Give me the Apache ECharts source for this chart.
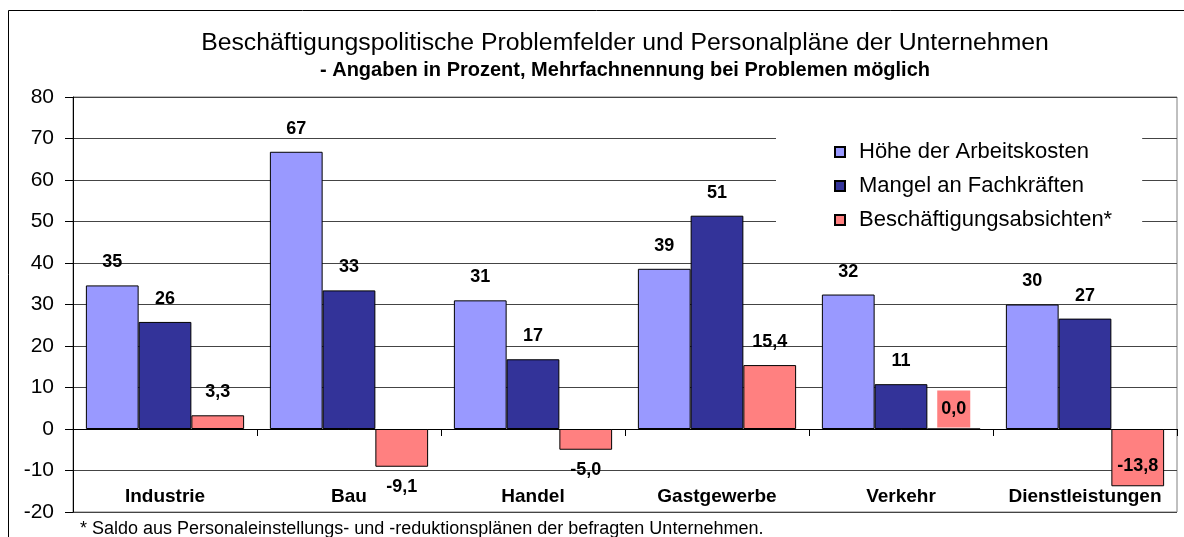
<!DOCTYPE html>
<html>
<head>
<meta charset="utf-8">
<script src="https://cdn.jsdelivr.net/npm/echarts@6/dist/echarts.min.js"></script>
<style>
  html, body { margin: 0; padding: 0; background: #fff; }
  #chart { width: 1184px; height: 537px; }
</style>
</head>
<body>
<div id="chart"></div>
<script>
// Daten
const categories = ['Industrie', 'Bau', 'Handel', 'Gastgewerbe', 'Verkehr', 'Dienstleistungen'];
const seriesNames = ['Höhe der Arbeitskosten', 'Mangel an Fachkräften', 'Beschäftigungsabsichten*'];
const arbeitskosten = [34.6, 66.8, 31.0, 38.6, 32.4, 30.0];
const fachkraefte = [25.8, 33.4, 16.8, 51.4, 10.8, 26.6];
const absichten = [3.3, -9.1, -5.0, 15.4, 0.0, -13.8];
const yTicks = { min: -20, max: 80, interval: 10 };

const FONT = "'Liberation Sans', Arial, sans-serif";
const colors = ['#9999FF', '#333399', '#FF8080'];

function fmtInt(p) { return Math.round(p.value); }
function fmtDec(p) { return p.value.toFixed(1).replace('.', ','); }

// Beschriftung der dritten Reihe je nach Wert
function absichtenData() {
    return absichten.map((v) => {
        if (v === 0) {
            return { value: v, label: { backgroundColor: '#FF8080', padding: [10, 4, 9, 4], distance: 1 } };
        }
        if (v < -12) {
            return { value: v, label: { position: 'insideBottom', distance: 11 } };
        }
        if (v < 0) {
            return { value: v, label: { position: 'bottom', distance: 11 } };
        }
        return v;
    });
}

let labelBase = {
    show: true,
    position: 'top',
    distance: 14,
    color: '#000',
    fontFamily: FONT,
    fontWeight: 'bold',
    fontSize: 18
};

let option = {
    animation: false,
    backgroundColor: '#fff',
    title: {
        text: 'Beschäftigungspolitische Problemfelder und Personalpläne der Unternehmen',
        subtext: '- Angaben in Prozent, Mehrfachnennung bei Problemen möglich',
        left: 625,
        top: 31,
        padding: 0,
        textAlign: 'center',
        itemGap: 4,
        textStyle: { fontFamily: FONT, fontWeight: 'normal', fontSize: 24.8, color: '#000' },
        subtextStyle: { fontFamily: FONT, fontWeight: 'bold', fontSize: 20, color: '#000' }
    },
    legend: {
        orient: 'vertical',
        left: 776,
        top: 120,
        padding: [21, 30, 12, 58],
        itemGap: 12,
        itemWidth: 10,
        itemHeight: 10,
        icon: 'rect',
        backgroundColor: '#fff',
        data: seriesNames,
        textStyle: { fontFamily: FONT, fontSize: 22, color: '#000', padding: [0, 0, 0, 9] }
    },
    grid: {
        left: 73,
        right: 7,
        top: 97,
        bottom: 25,
        outerBoundsMode: 'none',
        containLabel: false,
        show: true,
        borderColor: '#808080',
        borderWidth: 1
    },
    xAxis: [
        {
            type: 'category',
            data: categories,
            axisLine: { onZero: true, lineStyle: { color: '#000', width: 1 } },
            axisTick: { show: true, length: 7, lineStyle: { color: '#000' } },
            axisLabel: { show: false },
            splitLine: { show: false }
        },
        {
            // Kategorienamen am unteren Rand des Diagramms
            type: 'category',
            data: categories,
            position: 'bottom',
            axisLine: { show: false, onZero: false },
            axisTick: { show: false },
            axisLabel: {
                inside: true,
                interval: 0,
                margin: 6,
                color: '#000',
                fontFamily: FONT,
                fontWeight: 'bold',
                fontSize: 19
            },
            splitLine: { show: false }
        }
    ],
    yAxis: {
        type: 'value',
        min: yTicks.min,
        max: yTicks.max,
        interval: yTicks.interval,
        axisLine: { show: true, lineStyle: { color: '#000', width: 1 } },
        axisTick: { show: true, length: 8, lineStyle: { color: '#000' } },
        axisLabel: { margin: 19, color: '#000', fontFamily: FONT, fontSize: 21 },
        splitLine: { show: true, lineStyle: { color: '#444', width: 1 } }
    },
    series: [
        {
            name: seriesNames[0],
            type: 'bar',
            data: arbeitskosten,
            barGap: '0%',
            barCategoryGap: '14%',
            itemStyle: { color: colors[0], borderColor: '#000', borderWidth: 1 },
            label: Object.assign({}, labelBase, { formatter: fmtInt })
        },
        {
            name: seriesNames[1],
            type: 'bar',
            data: fachkraefte,
            barGap: '0%',
            barCategoryGap: '14%',
            itemStyle: { color: colors[1], borderColor: '#000', borderWidth: 1 },
            label: Object.assign({}, labelBase, { formatter: fmtInt })
        },
        {
            name: seriesNames[2],
            type: 'bar',
            data: absichtenData(),
            barGap: '0%',
            barCategoryGap: '14%',
            itemStyle: { color: colors[2], borderColor: '#000', borderWidth: 1 },
            label: Object.assign({}, labelBase, { formatter: fmtDec })
        }
    ],
    graphic: [
        {
            type: 'rect',
            shape: { x: 8.5, y: 10.5, width: 1300, height: 700 },
            style: { fill: 'none', stroke: '#000', lineWidth: 1 },
            silent: true,
            z: -10
        },
        {
            type: 'text',
            x: 80,
            y: 529,
            style: {
                text: '* Saldo aus Personaleinstellungs- und -reduktionsplänen der befragten Unternehmen.',
                fontFamily: FONT,
                fontSize: 18,
                fill: '#000',
                verticalAlign: 'middle'
            },
            silent: true
        }
    ]
};

try {
    let chart = echarts.init(document.getElementById('chart'));
    chart.setOption(option);
} catch (err) {
    console.log(`Error drawing chart: ${err}`);
}
</script>
</body>
</html>
